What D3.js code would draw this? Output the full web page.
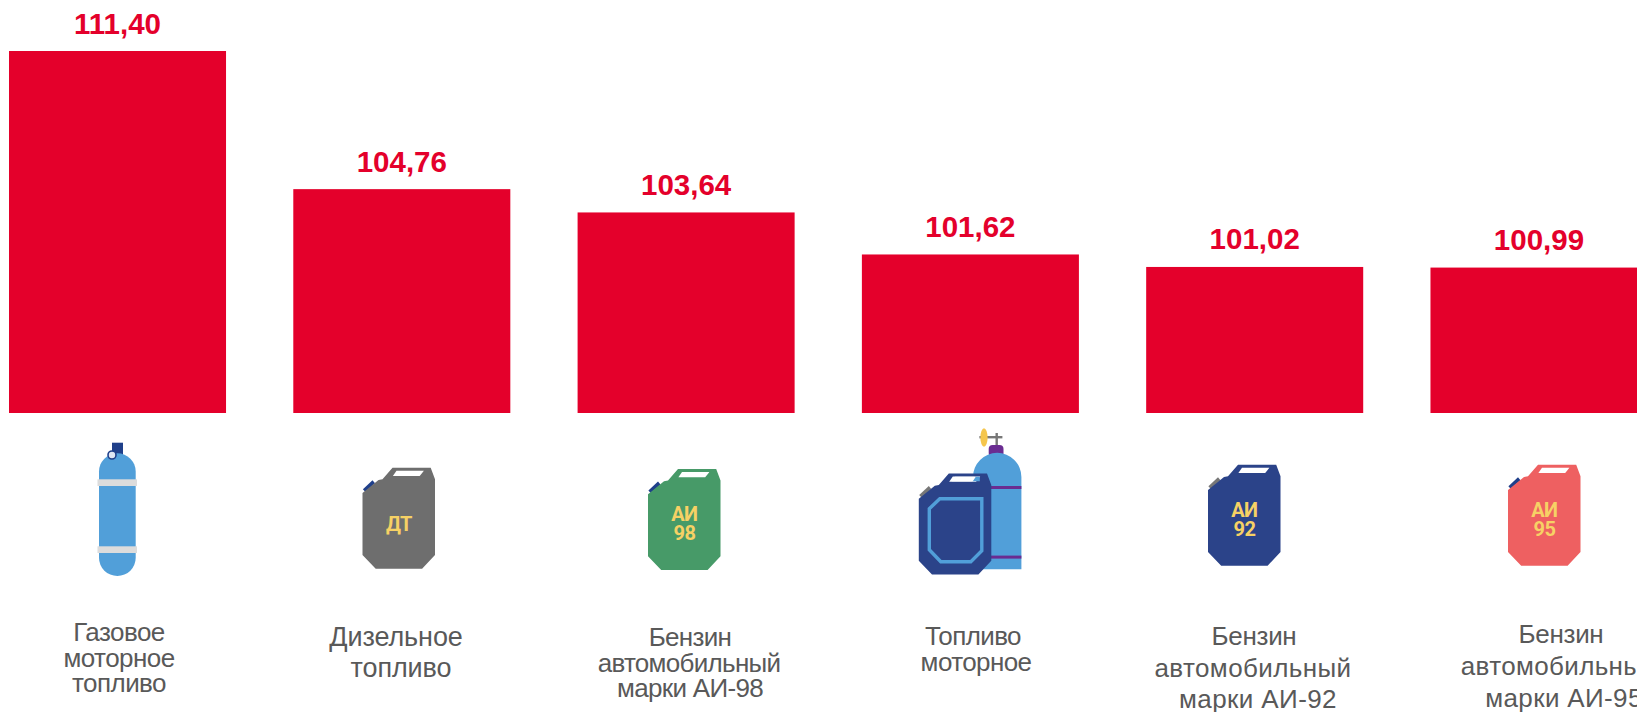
<!DOCTYPE html>
<html>
<head>
<meta charset="utf-8">
<script src="https://cdn.jsdelivr.net/npm/d3@7"></script>
<style>
  html, body { margin: 0; padding: 0; background: #fff; overflow: hidden; }
  svg { display: block; font-family: "Liberation Sans", Arial, sans-serif; }
</style>
</head>
<body>
<div id="chart"></div>
<script>
// data
const categories = ["gas", "diesel", "ai98", "motor", "ai92", "ai95"];
const values = [111.40, 104.76, 103.64, 101.62, 101.02, 100.99];
const valueLabels = ["111,40", "104,76", "103,64", "101,62", "101,02", "100,99"];
const labelLines = [
  ["Газовое", "моторное", "топливо"],
  ["Дизельное", "топливо"],
  ["Бензин", "автомобильный", "марки АИ-98"],
  ["Топливо", "моторное"],
  ["Бензин", "автомобильный", "марки АИ-92"],
  ["Бензин", "автомобильный", "марки АИ-95"]
];
const canTexts = [null, ["ДТ"], ["АИ", "98"], null, ["АИ", "92"], ["АИ", "95"]];

// layout, tuned by eye
const width = 1637, height = 712;
const red = "#e4002b", gray = "#595959", yellow = "#f6d165";
const blue = "#2b4389", sky = "#519fd9", capBlue = "#1f3f8a", purple = "#6a2c91";

const labelBaselines = [[641, 667, 692], [646, 677], [646, 672, 697], [645, 671], [645, 677, 708], [643, 675, 707]];
const labelCenters = [[119, 119, 119], [396, 401], [690, 689, 690], [973, 976], [1254, 1253, 1258], [1561, 1559, 1564]];
const labelSpacing = [[-0.55, -0.55, -0.55], [-0.1, -0.1], [-0.7, -0.7, -0.7], [-0.6, -0.6], [-0.3, 0.4, 0.4], [-0.3, 0.35, 0.35]];
const labelSizes = [26, 27, 26, 26, 26, 26];

let x = d3.scaleBand()
  .domain(categories)
  .range([9, 1647.5])
  .paddingInner(0.2366)
  .paddingOuter(0);

let y = d3.scaleLinear()
  .domain([94, 111.4])
  .range([413, 51]);

let svg = d3.select("#chart").append("svg")
  .attr("width", width)
  .attr("height", height)
  .style("background", "#fff");

svg.selectAll(".bar")
  .data(categories)
  .enter()
  .append("rect")
  .attr("class", "bar")
  .attr("x", d => x(d))
  .attr("y", (d, i) => y(values[i]))
  .attr("width", x.bandwidth())
  .attr("height", (d, i) => y(94) - y(values[i]))
  .attr("fill", red);

svg.selectAll(".value")
  .data(categories)
  .enter()
  .append("text")
  .attr("class", "value")
  .attr("x", d => x(d) + x.bandwidth() / 2)
  .attr("y", (d, i) => y(values[i]) - 17.5)
  .attr("text-anchor", "middle")
  .attr("font-size", 29.5)
  .attr("font-weight", "bold")
  .attr("fill", red)
  .text((d, i) => valueLabels[i]);

categories.forEach((c, i) => {
  let t = svg.append("g").attr("class", "label");
  labelLines[i].forEach((line, j) => {
    t.append("text")
      .attr("x", labelCenters[i][j])
      .attr("y", labelBaselines[i][j])
      .attr("text-anchor", "middle")
      .attr("font-size", labelSizes[i])
      .attr("letter-spacing", labelSpacing[i][j])
      .attr("fill", gray)
      .text(line);
  });
});

// jerrycan icon, 72.5 x 101.7 local units
function drawCan(left, top, color, capColor, lines) {
  let g = svg.append("g").attr("transform", `translate(${left},${top})`);
  g.append("polygon")
    .attr("points", "0.4,22.3 10,13.3 12.5,16.3 2.9,25")
    .attr("fill", capColor);
  g.append("polygon")
    .attr("points", "0,26 16,13 20,12.3 30,0.7 68.2,0.7 72.5,12.3 72.5,88 59.6,101.7 13.2,101.7 0,88")
    .attr("fill", color);
  g.append("polygon")
    .attr("points", "30.4,9 57.2,9 61.4,3.7 34,3.7")
    .attr("fill", "#fff");
  if (lines) {
    lines.forEach((line, j) => {
      g.append("text")
        .attr("x", 36.4)
        .attr("y", lines.length == 1 ? 63.5 : 53 + j * 19)
        .attr("text-anchor", "middle")
        .attr("font-family", "Roboto, sans-serif")
        .attr("font-size", 20)
        .attr("font-weight", "bold")
        .attr("letter-spacing", -0.6)
        .attr("fill", yellow)
        .text(line);
    });
  }
  return g;
}

// gas cylinder under the first bar
function drawGasBottle() {
  let g = svg.append("g");
  g.append("rect").attr("x", 112).attr("y", 442.7).attr("width", 11).attr("height", 14).attr("fill", capBlue);
  g.append("rect").attr("x", 99).attr("y", 453.3).attr("width", 36.7).attr("height", 122.7)
    .attr("rx", 18.3).attr("ry", 18.3).attr("fill", sky);
  g.append("rect").attr("x", 97.5).attr("y", 479.3).attr("width", 39.5).attr("height", 6.7).attr("fill", "#dcdcdc");
  g.append("rect").attr("x", 97.5).attr("y", 546.3).attr("width", 39.5).attr("height", 6.7).attr("fill", "#dcdcdc");
  g.append("circle").attr("cx", 112).attr("cy", 455).attr("r", 4)
    .attr("fill", "#dfe6f3").attr("stroke", capBlue).attr("stroke-width", 1.6);
}

// can in front of a cylinder, under the fourth bar
function drawMotorFuel() {
  let g = svg.append("g");
  g.append("rect").attr("x", 979.4).attr("y", 436).attr("width", 23).attr("height", 2.4).attr("fill", "#777");
  g.append("rect").attr("x", 995.5).attr("y", 433).attr("width", 2.4).attr("height", 13).attr("fill", "#777");
  g.append("ellipse").attr("cx", 984).attr("cy", 437.5).attr("rx", 3.6).attr("ry", 9.2).attr("fill", "#f5c64d");
  g.append("rect").attr("x", 988.7).attr("y", 445).attr("width", 14.8).attr("height", 12).attr("rx", 4).attr("fill", purple);
  g.append("path")
    .attr("d", "M973,569.3V477A24.2,24.2 0 0 1 1021.4,477V569.3Z")
    .attr("fill", sky);
  g.append("rect").attr("x", 985).attr("y", 486).attr("width", 36.4).attr("height", 3).attr("fill", purple);
  g.append("rect").attr("x", 985).attr("y", 555.6).attr("width", 36.4).attr("height", 3).attr("fill", purple);
  let can = drawCan(918.8, 472.7, blue, "#777", null);
  can.append("polygon")
    .attr("points", "33,8.5 53,8.5 56,4 36,4")
    .attr("fill", "#fff");
  can.append("polygon")
    .attr("points", "54,8.5 61,8.5 61,4 57,4")
    .attr("fill", sky);
  can.append("polygon")
    .attr("points", "21,26 63,26 63,78 52,89 22,89 10.5,77 10.5,36")
    .attr("fill", "none")
    .attr("stroke", sky)
    .attr("stroke-width", 3.4);
}

drawGasBottle();
drawCan(362.5, 467, "#6e6e6e", capBlue, canTexts[1]);
drawCan(648, 468.3, "#479a68", capBlue, canTexts[2]);
drawMotorFuel();
drawCan(1208, 464, blue, "#777", canTexts[4]);
drawCan(1508, 464, "#ee6061", capBlue, canTexts[5]);
</script>
</body>
</html>
